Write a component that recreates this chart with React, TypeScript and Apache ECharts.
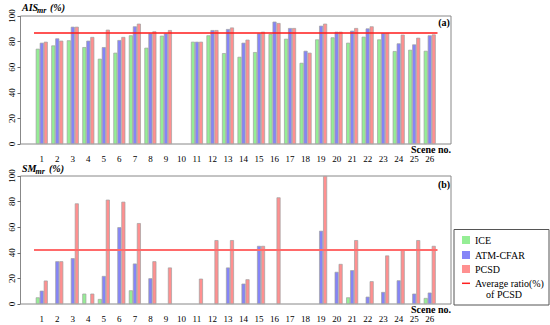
import React, { useEffect, useRef } from "react";
import * as echarts from "echarts";

const scenes = Array.from({ length: 26 }, (_, i) => String(i + 1));

// Panel (a): AIS_mr (%)
const aisICE = [74.4, 77, 81, 75.7, 66.6, 71.3, 84.9, 75.2, 84.6, 0, 79.9, 84.9, 71, 68.1, 71.8, 85.9, 82.2, 63.4, 81.7, 83.3, 79.1, 83.8, 81.7, 72.6, 73.6, 72.8];
const aisATM = [79.1, 82.5, 91.6, 80.7, 75.7, 81.2, 91.9, 86.4, 86.4, 0, 79.9, 89, 89.8, 79.1, 86.4, 95.6, 90.6, 72.8, 92.4, 87.7, 88.5, 90.3, 86.7, 78.6, 77.8, 84.9];
const aisPCSD = [79.9, 80.7, 91.6, 83.6, 89.3, 83.6, 94, 88, 89, 0, 79.9, 89, 91, 81.5, 87.7, 94.5, 90.6, 71.3, 94, 87.7, 90.6, 91.9, 86.7, 85.4, 83, 85.6];
const aisAvgPCSD = 86.7;

// Panel (b): SM_mr (%)
const smICE = [5.2, 0, 0, 8.1, 3.9, 0, 10.7, 0, 0, 0, 0, 0, 0, 0, 0, 0, 0, 0, 0, 0, 5.2, 0, 0, 0, 0, 4.7];
const smATM = [10.4, 33.4, 35.8, 0, 21.9, 60, 31.6, 20.1, 0, 0, 0, 0, 28.5, 15.9, 45.4, 0, 0, 0, 57.2, 25.1, 26.4, 5.7, 9.4, 18.5, 8.1, 8.9];
const smPCSD = [18.3, 33.4, 78.6, 8.1, 81.5, 79.9, 63.2, 33.4, 28.5, 0, 19.8, 49.9, 49.9, 19.3, 45.4, 83.3, 0, 0, 100, 31.3, 49.9, 17.8, 37.9, 42.3, 49.9, 45.4];
const smAvgPCSD = 42.6;

const yTicks = [0, 20, 40, 60, 80, 100];

const FONT = "'Liberation Serif', 'Times New Roman', serif";
const C_ICE = "#95ee95";
const C_ATM = "#8585f7";
const C_PCSD = "#ff9090";
const C_BORDER = "#a0a0a0";

export default function App() {
  const ref = useRef<HTMLDivElement>(null);
  useEffect(() => {
    if (!ref.current) return;
    const chart = echarts.init(ref.current, undefined, { renderer: "svg" });
    const grids = [
      { left: 34, right: 112.5, top: 16, height: 128 },
      { left: 34, right: 112.5, top: 176, height: 128 },
    ];
    const xAxis = [0, 1].map((g) => ({
      type: "category",
      gridIndex: g,
      data: scenes,
      axisLine: { show: false },
      axisTick: { show: false },
      axisLabel: { fontFamily: FONT, fontSize: 9, color: "#000", margin: 10.5, interval: 0 },
    }));
    const yAxis = [0, 1].map((g) => ({
      type: "value",
      gridIndex: g,
      min: yTicks[0],
      max: yTicks[yTicks.length - 1],
      interval: 20,
      offset: 13.5,
      splitLine: { show: false },
      axisLine: { show: false },
      axisTick: { show: true, length: 3, lineStyle: { color: "#666" } },
      axisLabel: { fontFamily: FONT, fontSize: 9, color: "#000", rotate: 90, margin: 4 },
    }));
    const bar = (name: string, data: number[], color: string, g: number, avg?: { v: number; w: number; c: string }) => ({
      type: "bar",
      name,
      xAxisIndex: g,
      yAxisIndex: g,
      data: data.map((v) => (v === 0 ? null : v)),
      barWidth: 4,
      barGap: "0%",
      itemStyle: { color, borderColor: C_BORDER, borderWidth: 0.7 },
      markLine: avg
        ? {
            silent: true,
            symbol: "none",
            label: { show: false },
            lineStyle: { color: avg.c, width: avg.w, type: "solid", opacity: 1 },
            data: [{ yAxis: avg.v }],
          }
        : undefined,
    });
    const sceneNo = (y: number) => ({
      type: "text",
      x: 451,
      y,
      style: { text: "Scene no.", font: `bold 10px ${FONT}`, fill: "#000", align: "right", verticalAlign: "middle" },
    });
    const title = (main: string, xSub: number, xPct: number, y: number) => [
      { type: "text", x: 22, y, style: { text: main, font: `italic bold 10px ${FONT}`, fill: "#000", align: "left", verticalAlign: "middle" } },
      { type: "text", x: xSub, y: y + 2.5, style: { text: "mr", font: `italic bold 8px ${FONT}`, fill: "#000", align: "left", verticalAlign: "middle" } },
      { type: "text", x: xPct, y, style: { text: "(%)", font: `italic bold 10px ${FONT}`, fill: "#000", align: "left", verticalAlign: "middle" } },
    ];
    const legendItems = [
      { label: "ICE", color: C_ICE, y: 240 },
      { label: "ATM-CFAR", color: C_ATM, y: 255 },
      { label: "PCSD", color: C_PCSD, y: 269 },
    ];
    const graphic: any[] = [
      { type: "rect", shape: { x: 20.5, y: 16, width: 430.5, height: 128 }, style: { fill: "none", stroke: "#888", lineWidth: 1 } },
      { type: "rect", shape: { x: 20.5, y: 176, width: 430.5, height: 128 }, style: { fill: "none", stroke: "#888", lineWidth: 1 } },
      sceneNo(149.5),
      sceneNo(309.5),
      { type: "text", x: 444, y: 22.5, style: { text: "(a)", font: `bold 10px ${FONT}`, fill: "#000", align: "center", verticalAlign: "middle" } },
      { type: "text", x: 444, y: 184.5, style: { text: "(b)", font: `bold 10px ${FONT}`, fill: "#000", align: "center", verticalAlign: "middle" } },
      ...title("AIS", 37, 50, 7.5),
      ...title("SM", 35.5, 49, 168.5),
      { type: "rect", shape: { x: 454, y: 229.5, width: 95, height: 75.5 }, style: { fill: "#fff", stroke: "#555", lineWidth: 1 } },
      ...legendItems.flatMap((it) => [
        { type: "rect", shape: { x: 462, y: it.y - 4, width: 8, height: 8 }, style: { fill: it.color } },
        { type: "text", x: 475, y: it.y, style: { text: it.label, font: `10px ${FONT}`, fill: "#000", align: "left", verticalAlign: "middle" } },
      ]),
      { type: "line", shape: { x1: 462, y1: 283.3, x2: 470, y2: 283.3 }, style: { stroke: "#ff2020", lineWidth: 1.5 } },
      { type: "text", x: 475, y: 283.3, style: { text: "Average ratio(%)", font: `10px ${FONT}`, fill: "#000", align: "left", verticalAlign: "middle" } },
      { type: "text", x: 504, y: 294.5, style: { text: "of PCSD", font: `10px ${FONT}`, fill: "#000", align: "center", verticalAlign: "middle" } },
    ];
    chart.setOption({
      animation: false,
      grid: grids,
      xAxis,
      yAxis,
      series: [
        bar("ICE", aisICE, C_ICE, 0),
        bar("ATM-CFAR", aisATM, C_ATM, 0),
        bar("PCSD", aisPCSD, C_PCSD, 0, { v: aisAvgPCSD, w: 1.5, c: "#ff1a1a" }),
        bar("ICE", smICE, C_ICE, 1),
        bar("ATM-CFAR", smATM, C_ATM, 1),
        bar("PCSD", smPCSD, C_PCSD, 1, { v: smAvgPCSD, w: 2, c: "#ff6a6a" }),
      ],
      graphic,
    } as any);
    return () => chart.dispose();
  }, []);
  return <div ref={ref} style={{ width: 550, height: 325, position: "absolute", left: 0, top: 0 }} />;
}
